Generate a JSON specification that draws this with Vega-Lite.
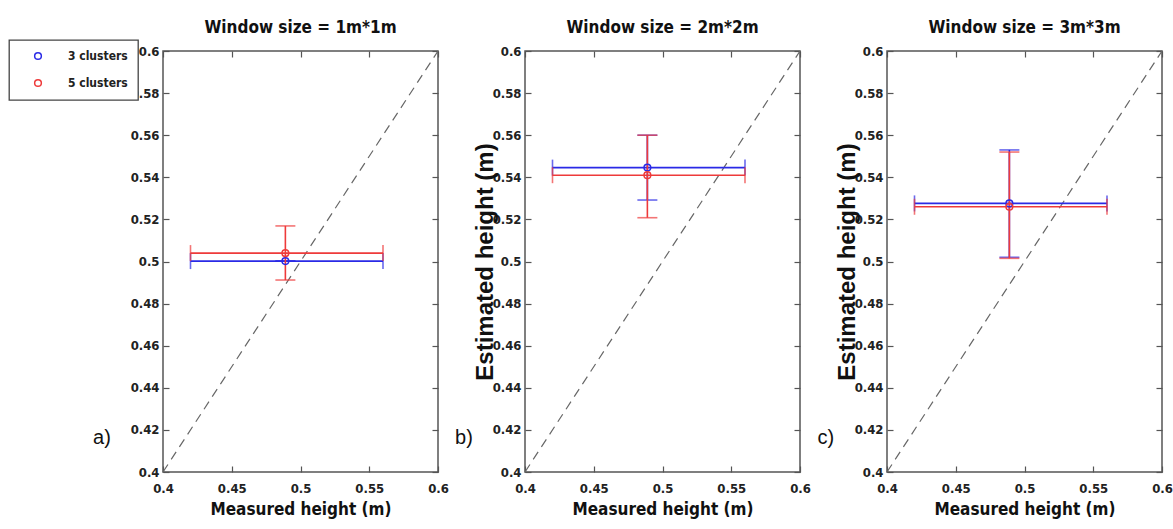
{
  "$schema": "https://vega.github.io/schema/vega-lite/v6.json",
  "padding": {"left": 8, "top": 18, "right": 5, "bottom": 5},
  "background": "white",
  "datasets": {
    "bars": [
      {"panel": "1m*1m", "cluster": "3 clusters", "mh": 0.489, "mlo": 0.42, "mhi": 0.56, "eh": 0.5002, "elo": 0.5002, "ehi": 0.5002},
      {"panel": "1m*1m", "cluster": "5 clusters", "mh": 0.489, "mlo": 0.42, "mhi": 0.56, "eh": 0.504, "elo": 0.4912, "ehi": 0.5169},
      {"panel": "2m*2m", "cluster": "3 clusters", "mh": 0.489, "mlo": 0.42, "mhi": 0.56, "eh": 0.5446, "elo": 0.5292, "ehi": 0.560},
      {"panel": "2m*2m", "cluster": "5 clusters", "mh": 0.489, "mlo": 0.42, "mhi": 0.56, "eh": 0.541, "elo": 0.5208, "ehi": 0.560},
      {"panel": "3m*3m", "cluster": "3 clusters", "mh": 0.489, "mlo": 0.42, "mhi": 0.56, "eh": 0.5276, "elo": 0.502, "ehi": 0.553},
      {"panel": "3m*3m", "cluster": "5 clusters", "mh": 0.489, "mlo": 0.42, "mhi": 0.56, "eh": 0.526, "elo": 0.5015, "ehi": 0.552}
    ],
    "diag": [{"mx": 0.4, "ey": 0.4}, {"mx": 0.6, "ey": 0.6}]
  },
  "spacing": 87,
  "bounds": "flush",
  "hconcat": [
    {
      "width": 275, "height": 421,
      "title": "Window size = 1m*1m",
      "layer": [
        {"data": {"name": "diag"}, "mark": {"type": "line", "color": "#666", "strokeDash": [9, 6], "strokeWidth": 1.2},
         "encoding": {
           "x": {"field": "mx", "type": "quantitative", "scale": {"domain": [0.4, 0.6], "nice": false, "zero": false}, "axis": {"values": [0.4, 0.45, 0.5, 0.55, 0.6], "format": "~g", "title": "Measured height (m)"}},
           "y": {"field": "ey", "type": "quantitative", "scale": {"domain": [0.4, 0.6], "nice": false, "zero": false}, "axis": {"values": [0.4, 0.42, 0.44, 0.46, 0.48, 0.5, 0.52, 0.54, 0.56, 0.58, 0.6], "format": "~g", "title": null}}}},
        {"data": {"name": "bars"}, "transform": [{"filter": "datum.panel === '1m*1m' && datum.cluster === '3 clusters'"}],
         "mark": {"type": "errorbar", "ticks": {"size": 16}, "thickness": 1.6, "color": "#2a2ae6"},
         "encoding": {"x": {"field": "mlo", "type": "quantitative", "axis": null}, "x2": {"field": "mhi"}, "y": {"field": "eh", "type": "quantitative", "axis": null}}},
        {"data": {"name": "bars"}, "transform": [{"filter": "datum.panel === '1m*1m' && datum.cluster === '3 clusters'"}],
         "mark": {"type": "errorbar", "ticks": {"size": 20}, "thickness": 1.6, "color": "#2a2ae6"},
         "encoding": {"x": {"field": "mh", "type": "quantitative", "axis": null}, "y": {"field": "elo", "type": "quantitative", "axis": null}, "y2": {"field": "ehi"}}},
        {"data": {"name": "bars"}, "transform": [{"filter": "datum.panel === '1m*1m' && datum.cluster === '5 clusters'"}],
         "mark": {"type": "errorbar", "ticks": {"size": 16}, "thickness": 1.6, "color": "#ee3a3a"},
         "encoding": {"x": {"field": "mlo", "type": "quantitative", "axis": null}, "x2": {"field": "mhi"}, "y": {"field": "eh", "type": "quantitative", "axis": null}}},
        {"data": {"name": "bars"}, "transform": [{"filter": "datum.panel === '1m*1m' && datum.cluster === '5 clusters'"}],
         "mark": {"type": "errorbar", "ticks": {"size": 20}, "thickness": 1.6, "color": "#ee3a3a"},
         "encoding": {"x": {"field": "mh", "type": "quantitative", "axis": null}, "y": {"field": "elo", "type": "quantitative", "axis": null}, "y2": {"field": "ehi"}}},
        {"data": {"name": "bars"}, "transform": [{"filter": "datum.panel === '1m*1m'"}],
         "mark": {"type": "point", "shape": "circle", "filled": false, "size": 45, "strokeWidth": 1.5, "opacity": 1},
         "encoding": {
           "x": {"field": "mh", "type": "quantitative", "axis": null},
           "y": {"field": "eh", "type": "quantitative", "axis": null},
           "color": {"field": "cluster", "type": "nominal", "scale": {"domain": ["3 clusters", "5 clusters"], "range": ["#2a2ae6", "#ee3a3a"]}, "legend": {"title": null}}}},
        {"data": {"values": [{}]},
         "mark": {"type": "text", "text": "a)", "font": "Liberation Sans", "fontSize": 20, "color": "#111"},
         "encoding": {
           "x": {"datum": 0.3556, "type": "quantitative", "axis": null},
           "y": {"datum": 0.4162, "type": "quantitative", "axis": null}}},
        {"data": {"name": "diag"}, "mark": {"type": "point", "opacity": 0},
         "encoding": {
           "x": {"field": "mx", "type": "quantitative", "axis": {"orient": "top", "values": [0.4, 0.45, 0.5, 0.55, 0.6], "labels": false, "title": null}},
           "y": {"field": "ey", "type": "quantitative", "axis": {"orient": "right", "values": [0.4, 0.42, 0.44, 0.46, 0.48, 0.5, 0.52, 0.54, 0.56, 0.58, 0.6], "labels": false, "title": null}}}}
      ],
      "resolve": {"axis": {"x": "independent", "y": "independent"}}
    },
    {
      "width": 275, "height": 421,
      "title": "Window size = 2m*2m",
      "layer": [
        {"data": {"name": "diag"}, "mark": {"type": "line", "color": "#666", "strokeDash": [9, 6], "strokeWidth": 1.2},
         "encoding": {
           "x": {"field": "mx", "type": "quantitative", "scale": {"domain": [0.4, 0.6], "nice": false, "zero": false}, "axis": {"values": [0.4, 0.45, 0.5, 0.55, 0.6], "format": "~g", "title": "Measured height (m)"}},
           "y": {"field": "ey", "type": "quantitative", "scale": {"domain": [0.4, 0.6], "nice": false, "zero": false}, "axis": {"values": [0.4, 0.42, 0.44, 0.46, 0.48, 0.5, 0.52, 0.54, 0.56, 0.58, 0.6], "format": "~g", "title": "Estimated height (m)"}}}},
        {"data": {"name": "bars"}, "transform": [{"filter": "datum.panel === '2m*2m' && datum.cluster === '3 clusters'"}],
         "mark": {"type": "errorbar", "ticks": {"size": 16}, "thickness": 1.6, "color": "#2a2ae6"},
         "encoding": {"x": {"field": "mlo", "type": "quantitative", "axis": null}, "x2": {"field": "mhi"}, "y": {"field": "eh", "type": "quantitative", "axis": null}}},
        {"data": {"name": "bars"}, "transform": [{"filter": "datum.panel === '2m*2m' && datum.cluster === '3 clusters'"}],
         "mark": {"type": "errorbar", "ticks": {"size": 20}, "thickness": 1.6, "color": "#2a2ae6"},
         "encoding": {"x": {"field": "mh", "type": "quantitative", "axis": null}, "y": {"field": "elo", "type": "quantitative", "axis": null}, "y2": {"field": "ehi"}}},
        {"data": {"name": "bars"}, "transform": [{"filter": "datum.panel === '2m*2m' && datum.cluster === '5 clusters'"}],
         "mark": {"type": "errorbar", "ticks": {"size": 16}, "thickness": 1.6, "color": "#ee3a3a"},
         "encoding": {"x": {"field": "mlo", "type": "quantitative", "axis": null}, "x2": {"field": "mhi"}, "y": {"field": "eh", "type": "quantitative", "axis": null}}},
        {"data": {"name": "bars"}, "transform": [{"filter": "datum.panel === '2m*2m' && datum.cluster === '5 clusters'"}],
         "mark": {"type": "errorbar", "ticks": {"size": 20}, "thickness": 1.6, "color": "#ee3a3a"},
         "encoding": {"x": {"field": "mh", "type": "quantitative", "axis": null}, "y": {"field": "elo", "type": "quantitative", "axis": null}, "y2": {"field": "ehi"}}},
        {"data": {"name": "bars"}, "transform": [{"filter": "datum.panel === '2m*2m'"}],
         "mark": {"type": "point", "shape": "circle", "filled": false, "size": 45, "strokeWidth": 1.5, "opacity": 1},
         "encoding": {
           "x": {"field": "mh", "type": "quantitative", "axis": null},
           "y": {"field": "eh", "type": "quantitative", "axis": null},
           "color": {"field": "cluster", "type": "nominal", "legend": {"title": null}}}},
        {"data": {"values": [{}]},
         "mark": {"type": "text", "text": "b)", "font": "Liberation Sans", "fontSize": 20, "color": "#111"},
         "encoding": {
           "x": {"datum": 0.3556, "type": "quantitative", "axis": null},
           "y": {"datum": 0.4162, "type": "quantitative", "axis": null}}},
        {"data": {"name": "diag"}, "mark": {"type": "point", "opacity": 0},
         "encoding": {
           "x": {"field": "mx", "type": "quantitative", "axis": {"orient": "top", "values": [0.4, 0.45, 0.5, 0.55, 0.6], "labels": false, "title": null}},
           "y": {"field": "ey", "type": "quantitative", "axis": {"orient": "right", "values": [0.4, 0.42, 0.44, 0.46, 0.48, 0.5, 0.52, 0.54, 0.56, 0.58, 0.6], "labels": false, "title": null}}}}
      ],
      "resolve": {"axis": {"x": "independent", "y": "independent"}}
    },
    {
      "width": 275, "height": 421,
      "title": "Window size = 3m*3m",
      "layer": [
        {"data": {"name": "diag"}, "mark": {"type": "line", "color": "#666", "strokeDash": [9, 6], "strokeWidth": 1.2},
         "encoding": {
           "x": {"field": "mx", "type": "quantitative", "scale": {"domain": [0.4, 0.6], "nice": false, "zero": false}, "axis": {"values": [0.4, 0.45, 0.5, 0.55, 0.6], "format": "~g", "title": "Measured height (m)"}},
           "y": {"field": "ey", "type": "quantitative", "scale": {"domain": [0.4, 0.6], "nice": false, "zero": false}, "axis": {"values": [0.4, 0.42, 0.44, 0.46, 0.48, 0.5, 0.52, 0.54, 0.56, 0.58, 0.6], "format": "~g", "title": "Estimated height (m)"}}}},
        {"data": {"name": "bars"}, "transform": [{"filter": "datum.panel === '3m*3m' && datum.cluster === '3 clusters'"}],
         "mark": {"type": "errorbar", "ticks": {"size": 16}, "thickness": 1.6, "color": "#2a2ae6"},
         "encoding": {"x": {"field": "mlo", "type": "quantitative", "axis": null}, "x2": {"field": "mhi"}, "y": {"field": "eh", "type": "quantitative", "axis": null}}},
        {"data": {"name": "bars"}, "transform": [{"filter": "datum.panel === '3m*3m' && datum.cluster === '3 clusters'"}],
         "mark": {"type": "errorbar", "ticks": {"size": 20}, "thickness": 1.6, "color": "#2a2ae6"},
         "encoding": {"x": {"field": "mh", "type": "quantitative", "axis": null}, "y": {"field": "elo", "type": "quantitative", "axis": null}, "y2": {"field": "ehi"}}},
        {"data": {"name": "bars"}, "transform": [{"filter": "datum.panel === '3m*3m' && datum.cluster === '5 clusters'"}],
         "mark": {"type": "errorbar", "ticks": {"size": 16}, "thickness": 1.6, "color": "#ee3a3a"},
         "encoding": {"x": {"field": "mlo", "type": "quantitative", "axis": null}, "x2": {"field": "mhi"}, "y": {"field": "eh", "type": "quantitative", "axis": null}}},
        {"data": {"name": "bars"}, "transform": [{"filter": "datum.panel === '3m*3m' && datum.cluster === '5 clusters'"}],
         "mark": {"type": "errorbar", "ticks": {"size": 20}, "thickness": 1.6, "color": "#ee3a3a"},
         "encoding": {"x": {"field": "mh", "type": "quantitative", "axis": null}, "y": {"field": "elo", "type": "quantitative", "axis": null}, "y2": {"field": "ehi"}}},
        {"data": {"name": "bars"}, "transform": [{"filter": "datum.panel === '3m*3m'"}],
         "mark": {"type": "point", "shape": "circle", "filled": false, "size": 45, "strokeWidth": 1.5, "opacity": 1},
         "encoding": {
           "x": {"field": "mh", "type": "quantitative", "axis": null},
           "y": {"field": "eh", "type": "quantitative", "axis": null},
           "color": {"field": "cluster", "type": "nominal", "legend": {"title": null}}}},
        {"data": {"values": [{}]},
         "mark": {"type": "text", "text": "c)", "font": "Liberation Sans", "fontSize": 20, "color": "#111"},
         "encoding": {
           "x": {"datum": 0.3556, "type": "quantitative", "axis": null},
           "y": {"datum": 0.4162, "type": "quantitative", "axis": null}}},
        {"data": {"name": "diag"}, "mark": {"type": "point", "opacity": 0},
         "encoding": {
           "x": {"field": "mx", "type": "quantitative", "axis": {"orient": "top", "values": [0.4, 0.45, 0.5, 0.55, 0.6], "labels": false, "title": null}},
           "y": {"field": "ey", "type": "quantitative", "axis": {"orient": "right", "values": [0.4, 0.42, 0.44, 0.46, 0.48, 0.5, 0.52, 0.54, 0.56, 0.58, 0.6], "labels": false, "title": null}}}}
      ],
      "resolve": {"axis": {"x": "independent", "y": "independent"}}
    }
  ],
  "config": {
    "font": "Liberation Sans Narrow, DejaVu Sans Condensed, Roboto, sans-serif",
    "view": {"stroke": "#555", "strokeWidth": 1.5},
    "axis": {
      "grid": false, "domain": false, "tickColor": "#555", "tickSize": -6, "tickWidth": 1.2,
      "labelFont": "Liberation Sans Narrow, DejaVu Sans Condensed, Roboto, sans-serif", "labelFontSize": 13, "labelFontWeight": "bold", "labelColor": "#222",
      "labelOverlap": false, "labelFlush": false, "labelBound": false,
      "titleColor": "#111", "titleFontWeight": "bold"
    },
    "axisX": {"titleFont": "Liberation Sans Narrow, DejaVu Sans Condensed, Roboto, sans-serif", "titleFontSize": 17, "titlePadding": 6, "labelPadding": 16},
    "axisY": {"titleFont": "Liberation Sans, sans-serif", "titleFontSize": 24, "titlePadding": -5, "labelPadding": 10},
    "title": {"font": "Liberation Sans Narrow, DejaVu Sans Condensed, Roboto, sans-serif", "fontSize": 17, "fontWeight": "bold", "color": "#111", "offset": 8},
    "legend": {
      "orient": "none", "legendX": -154, "legendY": -11, "symbolType": "circle",
      "labelFont": "Liberation Sans Narrow, DejaVu Sans Condensed, Roboto, sans-serif", "labelFontSize": 12, "labelFontWeight": "bold", "labelColor": "#222",
      "strokeColor": "#444", "strokeWidth": 1.3, "fillColor": "white", "padding": 10,
      "symbolOffset": 13, "symbolSize": 45, "symbolStrokeWidth": 1.5, "labelOffset": 24, "rowPadding": 13
    }
  }
}
